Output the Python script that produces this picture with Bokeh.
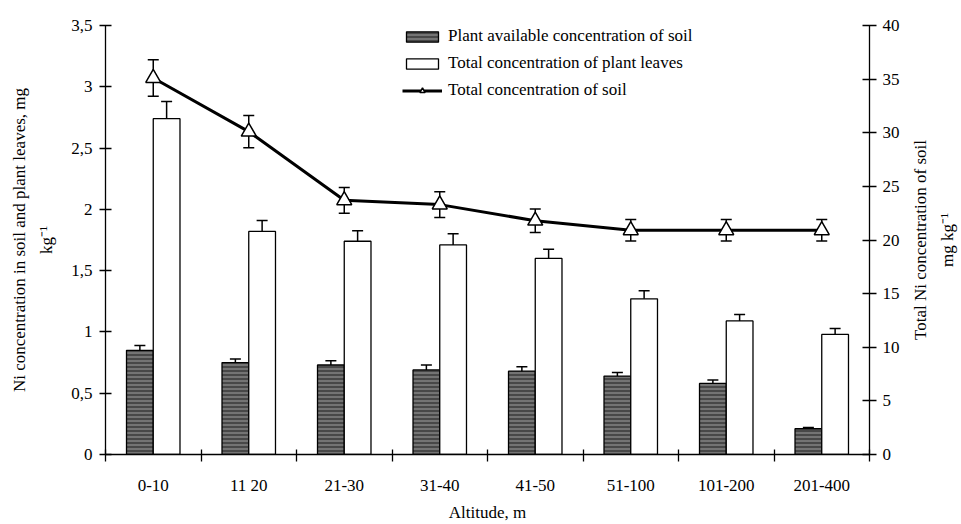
from bokeh.plotting import figure
from bokeh.layouts import row
from bokeh.models import (ColumnDataSource, Range1d, LinearAxis, FixedTicker,
                          Whisker, TeeHead, Legend, LegendItem)
from bokeh.embed import file_html
from bokeh.resources import INLINE

# Altitude classes and measured Ni concentrations
altitudes = ["0-10", "11 20", "21-30", "31-40", "41-50", "51-100", "101-200", "201-400"]
soil_available = [0.85, 0.75, 0.73, 0.69, 0.68, 0.64, 0.58, 0.21]       # mg kg-1
soil_available_err = [0.04, 0.03, 0.035, 0.04, 0.035, 0.03, 0.027, 0.01]
leaves_total = [2.74, 1.82, 1.74, 1.71, 1.60, 1.27, 1.09, 0.98]          # mg kg-1
leaves_total_err = [0.14, 0.09, 0.085, 0.09, 0.075, 0.065, 0.053, 0.047]
soil_total = [35.1, 30.1, 23.7, 23.3, 21.8, 20.9, 20.9, 20.9]            # mg kg-1
soil_total_err = [1.7, 1.5, 1.2, 1.2, 1.1, 1.0, 1.0, 1.0]

left_ticks = [0, 0.5, 1, 1.5, 2, 2.5, 3, 3.5]
left_tick_labels = ["0", "0,5", "1", "1,5", "2", "2,5", "3", "3,5"]
right_ticks = [0, 5, 10, 15, 20, 25, 30, 35, 40]

FONT = "Liberation Serif"
BAR_W = 0.28

centers = [i + 0.5 for i in range(len(altitudes))]

src_av = ColumnDataSource(dict(
    x=[c - BAR_W / 2 for c in centers], top=soil_available,
    upper=[v + e for v, e in zip(soil_available, soil_available_err)],
    lower=[v - e for v, e in zip(soil_available, soil_available_err)]))
src_lv = ColumnDataSource(dict(
    x=[c + BAR_W / 2 for c in centers], top=leaves_total,
    upper=[v + e for v, e in zip(leaves_total, leaves_total_err)],
    lower=[v - e for v, e in zip(leaves_total, leaves_total_err)]))
src_st = ColumnDataSource(dict(
    x=centers, y=soil_total,
    upper=[v + e for v, e in zip(soil_total, soil_total_err)],
    lower=[v - e for v, e in zip(soil_total, soil_total_err)]))

p = figure(width=903, height=524, output_backend="svg", toolbar_location=None,
           x_range=Range1d(0, len(altitudes)), y_range=Range1d(0, 3.5),
           min_border_left=105, min_border_right=34, min_border_top=25,
           min_border_bottom=69, outline_line_color=None, background_fill_color="white")
p.xgrid.visible = False
p.ygrid.visible = False
p.extra_y_ranges = {"soil": Range1d(0, 40)}


def style_axis(ax):
    ax.axis_line_color = "black"
    ax.axis_line_width = 1.3
    ax.major_tick_line_color = "black"
    ax.minor_tick_line_color = "black"
    ax.major_tick_line_width = 1.3
    ax.minor_tick_line_width = 1.3
    ax.major_label_text_font = FONT
    ax.major_label_text_font_size = "17px"
    ax.major_label_text_color = "black"
    ax.axis_label_text_font = FONT
    ax.axis_label_text_font_size = "17px"
    ax.axis_label_text_font_style = "normal"
    ax.axis_label_text_color = "black"


# axes
xax = p.xaxis[0]
xax.ticker = FixedTicker(ticks=centers, minor_ticks=list(range(len(altitudes) + 1)))
xax.major_label_overrides = {c: a for c, a in zip(centers, altitudes)}
xax.major_tick_in = 0
xax.major_tick_out = 0
xax.minor_tick_in = 5
xax.minor_tick_out = 7
xax.major_label_standoff = 14
xax.axis_label = "Altitude, m"
xax.axis_label_standoff = 5

yax = p.yaxis[0]
yax.ticker = FixedTicker(ticks=left_ticks)
yax.major_label_overrides = {t: l for t, l in zip(left_ticks, left_tick_labels)}
yax.major_tick_in = 6
yax.major_tick_out = 6
yax.minor_tick_in = 0
yax.minor_tick_out = 0
yax.major_label_standoff = 7
yax.axis_label = "Ni concentration in soil and plant leaves, mg\nkg\u207b\u00b9"
yax.axis_label_standoff = 12
yax.axis_label_text_line_height = 1.45

rax = LinearAxis(y_range_name="soil", ticker=FixedTicker(ticks=right_ticks))
rax.major_tick_in = 7
rax.major_tick_out = 7
rax.minor_tick_in = 0
rax.minor_tick_out = 0
rax.major_label_standoff = 6
p.add_layout(rax, "right")

for ax in (xax, yax, rax):
    style_axis(ax)

# bars
r_av = p.vbar(x="x", top="top", width=BAR_W, source=src_av,
              fill_color="#747474", line_color="black", line_width=1.3,
              hatch_pattern="horizontal_line", hatch_color="#2a2a2a",
              hatch_scale=4, hatch_weight=1.2)
r_lv = p.vbar(x="x", top="top", width=BAR_W, source=src_lv,
              fill_color="white", line_color="black", line_width=1.3)

for s in (src_av, src_lv):
    p.add_layout(Whisker(base="x", upper="upper", lower="lower", source=s,
                         line_width=1.5, line_color="black",
                         upper_head=TeeHead(size=11, line_width=1.5),
                         lower_head=TeeHead(size=11, line_width=1.5)))

# total soil concentration on the right axis
p.add_layout(Whisker(base="x", upper="upper", lower="lower", source=src_st,
                     y_range_name="soil", level="underlay",
                     line_width=1.5, line_color="black",
                     upper_head=TeeHead(size=11, line_width=1.5),
                     lower_head=TeeHead(size=11, line_width=1.5)))
r_line = p.line(x="x", y="y", source=src_st, y_range_name="soil",
                line_color="black", line_width=3)
r_mark = p.scatter(x="x", y="y", source=src_st, y_range_name="soil",
                   marker="triangle", size=15, fill_color="white",
                   line_color="black", line_width=1.5)

legend = Legend(items=[
    LegendItem(label="Plant available concentration of soil", renderers=[r_av]),
    LegendItem(label="Total concentration of plant leaves", renderers=[r_lv]),
    LegendItem(label="Total concentration of soil", renderers=[r_line, r_mark]),
], location=(297, 354), orientation="vertical", glyph_width=40, glyph_height=13,
    label_height=20, spacing=7, padding=0, margin=0, label_standoff=6,
    border_line_color=None, background_fill_alpha=0,
    label_text_font=FONT, label_text_font_size="17px", label_text_color="black")
p.add_layout(legend, "center")

# narrow strip carrying the title of the right-hand axis (reads bottom to top)
t = figure(width=58, height=524, output_backend="svg", toolbar_location=None,
           x_range=Range1d(0, 1), y_range=Range1d(0, 40),
           min_border_left=56, min_border_right=1, min_border_top=25,
           min_border_bottom=69, outline_line_color=None, background_fill_color="white")
t.xaxis.visible = False
t.xgrid.visible = False
t.ygrid.visible = False
tax = t.yaxis[0]
style_axis(tax)
tax.ticker = FixedTicker(ticks=[])
tax.axis_line_color = None
tax.major_tick_line_color = None
tax.minor_tick_line_color = None
tax.major_label_standoff = 0
tax.axis_label = "Total Ni concentration of soil\nmg kg\u207b\u00b9"
tax.axis_label_standoff = 3
tax.axis_label_text_line_height = 1.4

open("out.html", "w").write(file_html(row(p, t), INLINE))
